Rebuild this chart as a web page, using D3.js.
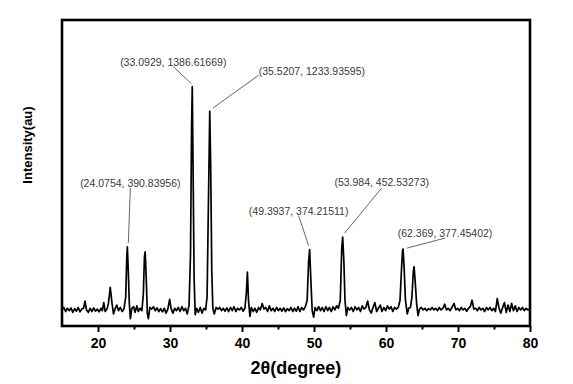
<!DOCTYPE html>
<html>
<head>
    <title>XRD</title>
    <script src="https://d3js.org/d3.v7.min.js"></script>
    <style type="text/css">
        body { margin: 0; background: #ffffff; }
        svg { background: #ffffff; font-family: Arial, "Liberation Sans", sans-serif; }
        .trace { fill: none; stroke: #000; stroke-width: 1.7; stroke-linejoin: round; }
        .frame { fill: none; stroke: #000; stroke-width: 2.6; }
        .note { font-size: 10.5px; fill: #3a3a3a; }
        .lead { stroke: #555; stroke-width: 0.9; }
    </style>
</head>
<body>
<div id="chart"></div>
<script>
// 2theta / intensity
var pattern = [
    [15.00, 0], [15.25, 15], [15.50, -10], [15.75, 10], [16.00, -5], [16.25, 12], [16.50, -15], [16.75, 8],
    [17.00, -8], [17.25, 15], [17.50, -12], [17.75, 5], [18.00, 10], [18.20, 55], [18.40, 0], [18.65, -15],
    [18.90, 10], [19.15, -10], [19.40, 12], [19.65, -8], [19.90, 5], [20.15, -12], [20.40, 10], [20.60, -5],
    [20.80, 45], [21.00, -10], [21.25, 5], [21.45, 40], [21.70, 140], [21.95, 40], [22.15, -25], [22.40, 10],
    [22.60, 30], [22.85, -5], [23.10, 15], [23.35, -10], [23.60, 5], [23.85, 80], [24.00, 330], [24.0754, 390.84],
    [24.20, 250], [24.35, 40], [24.50, -55], [24.70, 10], [24.95, 20], [25.15, -15], [25.40, 25], [25.60, -10],
    [25.85, 10], [26.10, -5], [26.30, 100], [26.45, 330], [26.55, 360], [26.70, 200], [26.85, -20], [27.00, -55],
    [27.20, 15], [27.45, 5], [27.70, 20], [27.95, -5], [28.20, 12], [28.45, -10], [28.70, 8], [28.95, -12],
    [29.20, 10], [29.45, -20], [29.70, 5], [29.95, 65], [30.15, 10], [30.40, -20], [30.65, 10], [30.90, -5],
    [31.15, 15], [31.40, -10], [31.65, 20], [31.90, -5], [32.15, 10], [32.40, -25], [32.65, 30], [32.85, 350],
    [33.00, 1150], [33.0929, 1386.62], [33.20, 900], [33.35, 200], [33.50, -30], [33.70, 10], [33.95, -15], [34.20, 15],
    [34.45, -20], [34.70, 10], [34.95, 0], [35.15, 80], [35.35, 700], [35.5207, 1233.94], [35.65, 900], [35.80, 250],
    [35.95, 10], [36.15, -25], [36.40, 15], [36.65, 5], [36.90, 15], [37.15, -5], [37.40, 10], [37.65, -8],
    [37.90, 12], [38.15, -10], [38.40, 15], [38.65, -5], [38.90, 20], [39.15, -10], [39.40, 10], [39.65, 0],
    [39.90, 15], [40.15, -8], [40.40, 10], [40.60, 100], [40.75, 235], [40.90, 60], [41.10, -40], [41.30, 15],
    [41.55, -10], [41.80, 10], [42.05, -15], [42.30, 15], [42.55, 0], [42.80, 40], [43.05, 5], [43.30, 15],
    [43.55, -10], [43.80, 25], [44.05, -5], [44.30, 10], [44.55, -10], [44.80, 15], [45.05, -5], [45.30, 10],
    [45.55, -8], [45.80, 12], [46.05, -10], [46.30, 8], [46.55, -5], [46.80, 15], [47.05, -10], [47.30, 10],
    [47.55, -8], [47.80, 20], [48.05, -10], [48.30, 15], [48.55, 0], [48.80, 20], [49.05, 60], [49.25, 300],
    [49.3937, 374.22], [49.55, 200], [49.75, -5], [49.95, -45], [50.15, 15], [50.40, -5], [50.65, 20], [50.90, -5],
    [51.15, 15], [51.40, -10], [51.65, 20], [51.90, -5], [52.15, 15], [52.40, -10], [52.65, 20], [52.90, 0],
    [53.15, 25], [53.40, 10], [53.65, 60], [53.85, 380], [53.984, 452.53], [54.15, 300], [54.30, 60], [54.50, -35],
    [54.70, 15], [54.95, 0], [55.20, 15], [55.45, -10], [55.70, 20], [55.95, 0], [56.20, 15], [56.45, -10],
    [56.70, 25], [56.95, 5], [57.20, 15], [57.45, 55], [57.70, 0], [57.95, -20], [58.20, 15], [58.45, 45],
    [58.70, -10], [58.95, 10], [59.20, 30], [59.45, -10], [59.70, 15], [59.95, -5], [60.20, 25], [60.45, 5],
    [60.70, 20], [60.95, -10], [61.20, 15], [61.45, 5], [61.70, 15], [61.95, 60], [62.15, 250], [62.30, 370],
    [62.369, 377.45], [62.50, 280], [62.70, 60], [62.95, -25], [63.15, 10], [63.40, 15], [63.60, 80], [63.80, 240],
    [63.90, 268], [64.05, 180], [64.25, 40], [64.45, -35], [64.65, 5], [64.90, 15], [65.15, 0], [65.40, 10],
    [65.65, -5], [65.90, 8], [66.15, 0], [66.40, 15], [66.65, 0], [66.90, 10], [67.15, -5], [67.40, 15],
    [67.65, 0], [67.90, 10], [68.15, 35], [68.40, 0], [68.65, 10], [68.90, -5], [69.15, 15], [69.45, 40],
    [69.70, 0], [69.95, 10], [70.20, -5], [70.45, 15], [70.70, 0], [70.95, 10], [71.20, -8], [71.45, 10],
    [71.70, 20], [71.95, 60], [72.20, 5], [72.45, 10], [72.70, -5], [72.95, 15], [73.20, 0], [73.45, 10],
    [73.70, -10], [73.95, 15], [74.20, 0], [74.45, 15], [74.70, -5], [74.95, 10], [75.20, -10], [75.45, 70],
    [75.70, 10], [75.95, -20], [76.20, 15], [76.45, 45], [76.70, -15], [76.95, 30], [77.20, -10], [77.45, 40],
    [77.70, -5], [77.95, 25], [78.20, -10], [78.45, 15], [78.70, 0], [78.95, 15], [79.20, -5], [79.45, 10],
    [79.70, 0], [80.00, 5]
]

var peakX = [33.0929, 35.5207, 24.0754, 49.3937, 53.984, 62.369]
var peakY = [1386.61669, 1233.93595, 390.83956, 374.21511, 452.53273, 377.45402]

var majorTicks = [20, 30, 40, 50, 60, 70, 80]
var minorTicks = [25, 35, 45, 55, 65, 75]

// label placement (pixels, relative to the peak)
// [text dx, text dy, anchor, line x1, y1, x2, y2]
var noteOffsets = [
    [-19, -21, "middle", -19, -20, -1, -3],
    [49, -36, "start", 49, -36, 3, -3],
    [3, -60, "middle", 3, -59, 1, -4],
    [-11, -35, "middle", -11, -34, -1, -4],
    [39, -51, "middle", 39, -49, 2, -4],
    [42, -12, "middle", 42, -11, 4, -1]
]

var W = 573, H = 384
var margin = {top: 20, left: 62, right: 43, bottom: 58}
var width = W - margin.left - margin.right
var height = H - margin.top - margin.bottom

var svg = d3.select("#chart")
    .append("svg")
    .attr("width", W)
    .attr("height", H)

var g = svg.append("g")
    .attr("transform", "translate(" + margin.left + "," + margin.top + ")")

var x = d3.scaleLinear().domain([15, 80]).range([0, width])
var y = d3.scaleLinear().domain([-100, 1800]).range([height, 0])

var line = d3.line()
    .x(function(d){ return x(d[0]) })
    .y(function(d){ return y(d[1]) })

g.append("path")
    .datum(pattern)
    .attr("class", "trace")
    .attr("d", line)

// bottom axis, major + minor ticks
var axisMajor = g.append("g")
    .attr("transform", "translate(0," + height + ")")
    .call(d3.axisBottom(x).tickValues(majorTicks).tickSize(6).tickPadding(6).tickFormat(d3.format("d")))
axisMajor.select(".domain").remove()
axisMajor.selectAll("line").attr("stroke", "#000").attr("stroke-width", 2)
axisMajor.selectAll("text")
    .attr("fill", "#000")
    .style("font-size", "14px")
    .style("font-weight", "bold")
    .style("font-family", "Arial, 'Liberation Sans', sans-serif")

var axisMinor = g.append("g")
    .attr("transform", "translate(0," + height + ")")
    .call(d3.axisBottom(x).tickValues(minorTicks).tickSize(3.5).tickFormat(""))
axisMinor.select(".domain").remove()
axisMinor.selectAll("line").attr("stroke", "#000").attr("stroke-width", 2)

g.append("rect")
    .attr("class", "frame")
    .attr("x", 0)
    .attr("y", 0)
    .attr("width", width)
    .attr("height", height)

// peak annotations
peakX.forEach(function(px, i){
    var o = noteOffsets[i]
    var cx = x(px), cy = y(peakY[i])
    g.append("line")
        .attr("class", "lead")
        .attr("x1", cx + o[3]).attr("y1", cy + o[4])
        .attr("x2", cx + o[5]).attr("y2", cy + o[6])
    g.append("text")
        .attr("class", "note")
        .attr("x", cx + o[0])
        .attr("y", cy + o[1])
        .attr("text-anchor", o[2])
        .text("(" + px + ", " + peakY[i] + ")")
})

svg.append("text")
    .attr("x", margin.left + width / 2)
    .attr("y", 374)
    .attr("text-anchor", "middle")
    .style("font-size", "18px")
    .style("font-weight", "bold")
    .text("2\u03b8(degree)")

svg.append("text")
    .attr("transform", "translate(32,145) rotate(-90)")
    .attr("text-anchor", "middle")
    .style("font-size", "13px")
    .style("font-weight", "bold")
    .text("Intensity(au)")
</script>
</body>
</html>
